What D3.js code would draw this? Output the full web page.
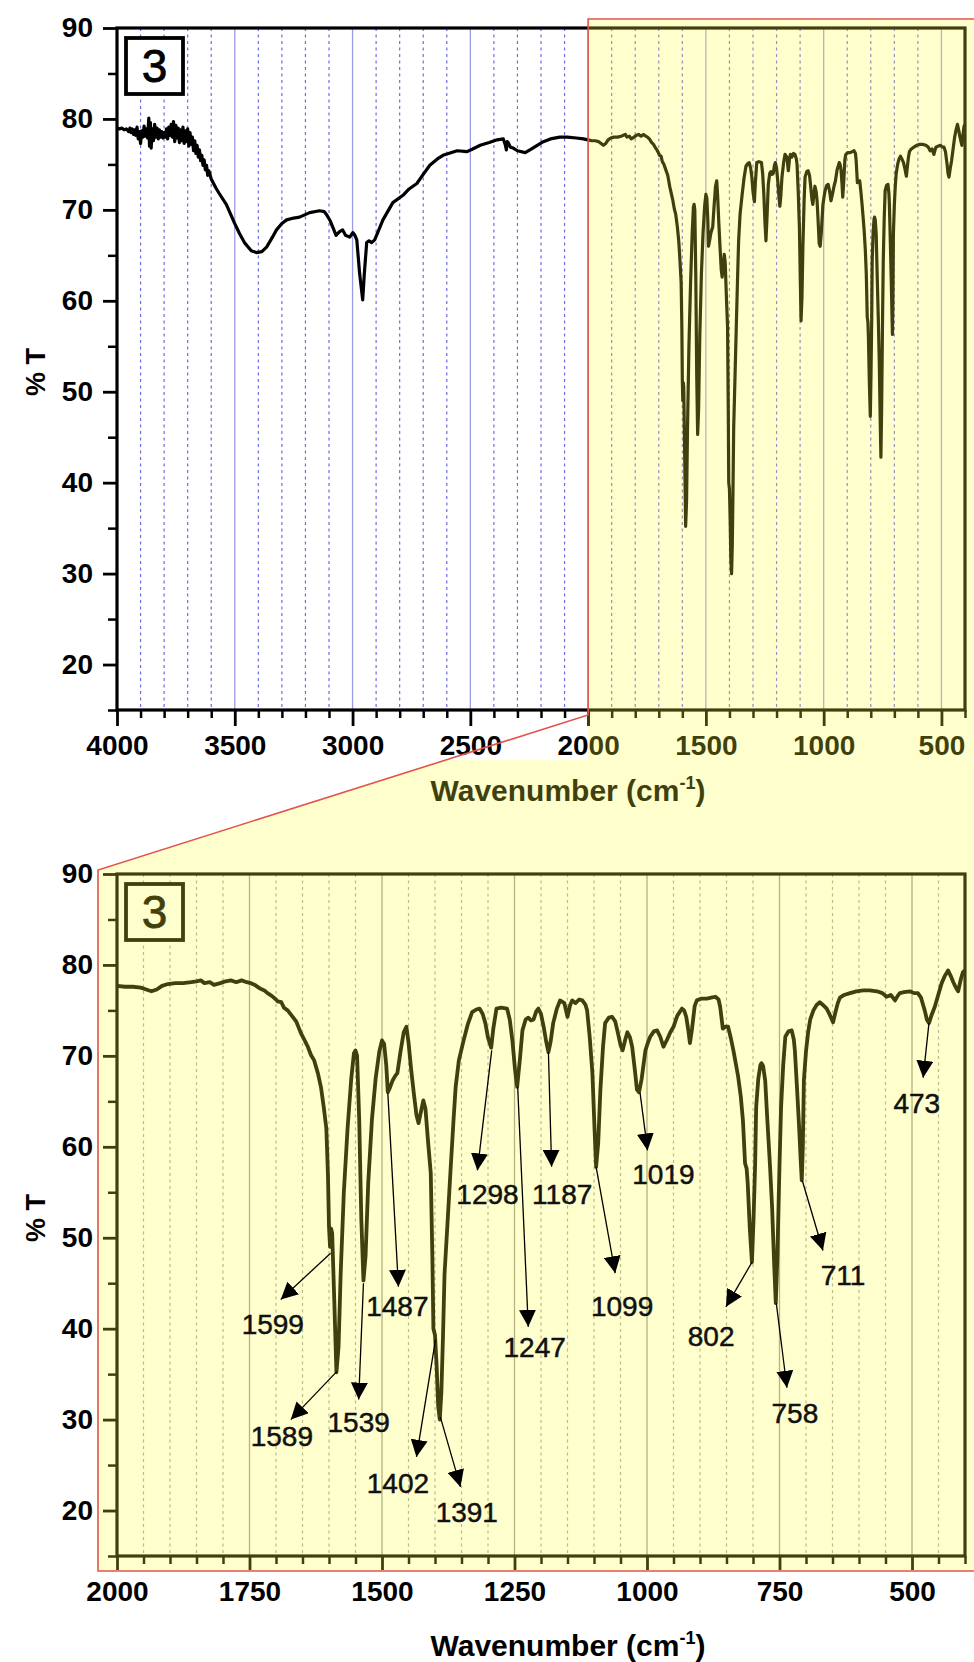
<!DOCTYPE html>
<html>
<head>
<meta charset="utf-8">
<script src="https://cdn.jsdelivr.net/npm/d3@7"></script>
<style>
  body { margin: 0; background: #fff; }
  svg { display: block; }
  text { font-family: "Liberation Sans", Arial, sans-serif; }
</style>
</head>
<body>
<div id="chart"></div>
<script>
// spectrum 4000 -> 2000 cm-1
const highSpectrum = [
  [4000,79.0],[3990,78.9],[3980,79.0],[3970,78.8],[3960,78.9],[3950,78.6],[3945,79.0],[3940,78.5],
  [3935,78.9],[3930,78.3],[3925,78.8],[3920,78.2],[3915,79.1],[3910,77.8],[3905,78.6],[3900,77.3],
  [3895,78.7],[3890,78.0],[3885,79.2],[3880,78.1],[3875,78.9],[3870,77.9],[3865,80.1],[3862,77.0],
  [3858,79.6],[3855,76.8],[3850,78.9],[3845,77.6],[3840,79.4],[3835,78.0],[3830,79.0],[3825,77.8],
  [3820,78.8],[3815,78.0],[3810,78.6],[3805,77.9],[3800,78.5],[3795,78.0],[3790,78.9],[3785,77.8],
  [3780,79.1],[3775,78.2],[3770,79.4],[3765,78.0],[3760,79.7],[3755,77.5],[3750,79.3],[3745,77.9],
  [3740,79.0],[3735,77.4],[3730,78.8],[3725,77.6],[3720,79.1],[3715,77.3],[3710,78.7],[3705,77.5],
  [3700,78.9],[3695,77.0],[3690,78.5],[3685,77.2],[3680,78.0],[3675,76.5],[3670,77.6],[3665,76.2],
  [3660,77.1],[3655,75.8],[3650,76.6],[3645,75.4],[3640,76.0],[3635,74.9],[3630,75.5],[3625,74.4],
  [3620,74.9],[3615,73.8],[3610,74.3],[3600,73.4],[3590,72.9],[3580,72.4],[3566,71.8],[3536,70.6],
  [3502,68.6],[3480,67.4],[3459,66.4],[3430,65.5],[3408,65.3],[3385,65.4],[3365,65.9],[3340,67.0],
  [3323,67.8],[3300,68.5],[3280,68.9],[3250,69.1],[3225,69.2],[3182,69.7],[3140,69.9],[3120,69.8],
  [3111,69.5],[3095,68.8],[3084,68.1],[3070,67.2],[3063,67.4],[3055,67.6],[3042,67.8],[3030,67.2],
  [3012,67.0],[2999,67.5],[2990,67.2],[2982,66.7],[2970,63.0],[2957,60.1],[2950,63.0],[2940,66.4],
  [2930,66.6],[2919,66.4],[2906,66.7],[2871,68.9],[2829,70.8],[2786,71.6],[2760,72.3],[2727,72.9],
  [2700,73.9],[2672,74.9],[2640,75.6],[2616,76.0],[2556,76.5],[2514,76.4],[2490,76.7],[2458,77.1],
  [2420,77.4],[2386,77.7],[2360,77.8],[2352,77.2],[2347,76.6],[2343,77.5],[2339,77.4],[2330,76.9],
  [2318,76.8],[2300,76.5],[2267,76.3],[2240,76.7],[2216,77.1],[2190,77.5],[2160,77.8],[2120,78.0],
  [2088,78.0],[2050,77.9],[2020,77.8]
];

const fingerprint = [
  [2000,77.7],[1985,77.6],[1970,77.6],[1955,77.5],[1945,77.3],[1935,77.1],[1925,77.3],[1915,77.7],
  [1904,77.9],[1890,78.0],[1875,78.0],[1860,78.1],[1850,78.2],[1842,78.3],[1835,78.0],[1825,78.1],
  [1817,77.8],[1805,78.0],[1795,78.2],[1785,78.3],[1775,78.1],[1765,78.3],[1755,78.1],[1748,78.0],
  [1740,77.8],[1730,77.4],[1722,77.2],[1716,76.9],[1708,76.6],[1700,76.2],[1697,76.0],[1690,75.9],
  [1685,75.3],[1678,75.0],[1670,74.4],[1662,73.8],[1653,72.5],[1645,71.6],[1640,71.0],[1634,70.1],
  [1628,69.5],[1621,68.1],[1615,66.5],[1610,64.4],[1605,62.0],[1602,57.0],[1600,51.2],[1598,49.0],
  [1596,51.0],[1594,50.5],[1590,43.0],[1586,35.2],[1582,38.0],[1578,46.0],[1572,55.0],[1565,62.0],
  [1558,67.5],[1553,70.3],[1550,70.6],[1547,70.0],[1543,63.0],[1539,52.0],[1535,45.3],[1531,48.0],
  [1526,56.0],[1519,63.0],[1512,67.5],[1505,70.5],[1500,71.7],[1496,71.3],[1492,69.0],[1489,66.0],
  [1485,66.5],[1480,67.3],[1475,67.8],[1471,68.1],[1465,70.5],[1459,72.6],[1454,73.2],[1450,71.5],
  [1445,68.5],[1440,65.9],[1435,63.5],[1431,62.6],[1426,64.0],[1422,65.1],[1418,64.2],[1413,60.5],
  [1408,57.1],[1405,48.0],[1403,40.0],[1400,39.3],[1397,36.0],[1394,31.5],[1391,30.0],[1388,33.0],
  [1385,39.0],[1382,46.0],[1376,52.0],[1371,57.1],[1365,63.0],[1361,66.6],[1355,69.5],[1346,71.7],
  [1338,73.5],[1330,74.8],[1322,75.1],[1316,75.2],[1310,74.6],[1305,73.6],[1300,72.0],[1294,70.9],
  [1290,73.0],[1284,75.2],[1275,75.3],[1264,75.2],[1259,74.0],[1254,71.7],[1249,68.5],[1245,66.6],
  [1240,69.5],[1235,72.8],[1229,74.0],[1224,74.2],[1219,73.9],[1214,74.0],[1209,74.9],[1205,75.2],
  [1200,74.6],[1195,73.2],[1190,71.5],[1186,70.4],[1182,71.5],[1177,73.6],[1170,75.2],[1164,76.1],
  [1156,75.8],[1150,74.3],[1145,75.6],[1141,76.1],[1135,75.8],[1128,76.2],[1122,76.1],[1116,75.6],
  [1113,75.0],[1108,72.0],[1103,68.1],[1099,62.0],[1096,57.8],[1092,60.5],[1088,66.2],[1083,71.0],
  [1079,73.6],[1072,74.2],[1066,74.3],[1060,73.8],[1056,72.8],[1050,71.2],[1046,70.6],[1041,71.8],
  [1037,72.6],[1032,72.0],[1028,71.0],[1023,68.5],[1019,66.3],[1015,66.0],[1010,67.5],[1003,70.6],
  [998,71.5],[994,72.1],[987,72.7],[981,72.8],[975,72.1],[969,71.0],[962,71.8],[956,72.6],
  [950,73.2],[943,74.4],[934,75.2],[930,75.0],[926,74.3],[922,72.8],[919,71.4],[915,73.0],
  [910,75.5],[906,76.1],[897,76.3],[887,76.3],[879,76.4],[871,76.5],[865,76.2],[862,75.4],
  [859,74.0],[857,73.0],[852,73.2],[847,73.2],[842,72.0],[837,70.6],[832,69.0],[828,67.7],
  [823,65.5],[819,62.9],[815,58.2],[812,57.6],[810,56.0],[806,51.0],[802,47.3],[799,52.0],
  [796,58.0],[794,64.4],[790,67.5],[786,69.0],[784,69.2],[781,68.9],[777,67.3],[773,63.0],
  [768,58.0],[764,53.4],[760,47.0],[757,42.8],[754,48.0],[750,58.0],[747,64.4],[743,69.0],
  [739,72.1],[733,72.7],[727,72.8],[723,71.8],[721,70.6],[717,66.5],[713,62.2],[710,58.5],
  [708,56.3],[706,60.0],[704,67.3],[700,70.5],[696,72.6],[692,74.0],[686,75.0],[680,75.6],
  [674,75.9],[668,75.6],[661,75.2],[655,74.5],[649,73.7],[644,74.9],[640,75.8],[636,76.4],
  [628,76.7],[617,76.9],[605,77.1],[592,77.2],[580,77.2],[566,77.1],[556,76.9],[548,76.5],
  [540,76.7],[532,76.1],[527,76.6],[523,76.9],[515,77.0],[504,77.1],[496,76.9],[489,76.9],
  [483,76.4],[476,75.0],[472,74.0],[468,73.6],[463,74.5],[457,75.4],[450,76.8],[444,78.0],
  [438,78.8],[432,79.4],[427,78.8],[422,78.1],[418,77.6],[413,77.1],[408,78.4],[404,79.2],
  [400,79.4]
];

const yTickValues = [20, 30, 40, 50, 60, 70, 80, 90];
const topXTickValues = [4000, 3500, 3000, 2500, 2000, 1500, 1000, 500];
const bottomXTickValues = [2000, 1750, 1500, 1250, 1000, 750, 500];

// peak annotations: [wavenumber, %T] of arrow tail, arrow head and label
const peakLabels = ["1599","1589","1539","1487","1402","1391","1298","1247","1187","1099","1019","802","758","711","473"];
const arrowFrom = [[1597,48.3],[1585,35.3],[1535,45.0],[1489,65.9],[1399,38.8],[1390,30.3],[1293,70.6],[1244,66.6],
                   [1186,70.4],[1096,57.8],[1013,65.9],[802,47.3],[756,42.8],[707,56.3],[468,73.6]];
const arrowTo   = [[1691,43.2],[1672,30.0],[1544,32.2],[1469,44.6],[1435,25.9],[1352,22.6],[1320,57.4],[1224,40.2],
                   [1180,57.8],[1060,46.1],[999,59.6],[851,42.4],[736,33.5],[668,48.6],[479,67.6]];
const labelAt   = [[1706,40.5],[1689,28.1],[1544,29.7],[1471,42.4],[1470,23.0],[1340,19.8],[1301,54.7],[1212,37.9],
                   [1160,54.7],[1047,42.4],[969,56.9],[879,39.1],[721,30.7],[630,45.9],[491,64.8]];

const W = 974, H = 1662;

const svg = d3.select("#chart")
    .append("svg")
    .attr("width", W)
    .attr("height", H);

svg.append("rect").attr("width", W).attr("height", H).attr("fill", "#fff");

// scales
const xTop = d3.scaleLinear().domain([4000, 400]).range([117, 965]);
const yTop = d3.scaleLinear().domain([15, 90]).range([710, 28]);
const xBot = d3.scaleLinear().domain([2000, 400]).range([117, 965]);
const yBot = d3.scaleLinear().domain([15, 90]).range([1556, 874]);

function drawPanel(g, o) {
    const x = o.x, y = o.y;
    const [x0, x1] = x.range();
    const [yb, yt] = y.range();
    const [d0, d1] = x.domain();

    // vertical grid
    const gridVals = d3.range(d0 - o.minorStep, d1, -o.minorStep);
    g.append("g")
        .selectAll("line")
        .data(gridVals)
        .join("line")
        .attr("x1", d => x(d)).attr("x2", d => x(d))
        .attr("y1", yt).attr("y2", yb)
        .attr("stroke", d => o.majorX.includes(d) ? o.gridSolid : o.gridDash)
        .attr("stroke-width", d => o.majorX.includes(d) ? 1.3 : 1.2)
        .attr("stroke-dasharray", d => o.majorX.includes(d) ? null : "3,3.5");

    // spectrum
    g.append("path")
        .datum(o.data)
        .attr("fill", "none")
        .attr("stroke", "#000")
        .attr("stroke-width", o.lineWidth)
        .attr("stroke-linejoin", "round")
        .attr("d", d3.line().x(d => x(d[0])).y(d => y(d[1])));

    // label box "3"
    g.append("rect")
        .attr("x", x0 + 9).attr("y", yt + 10)
        .attr("width", 57).attr("height", 56)
        .attr("fill", "#fff").attr("stroke", "#000").attr("stroke-width", 3.8);
    g.append("text")
        .attr("x", x0 + 37.5).attr("y", yt + 54)
        .attr("text-anchor", "middle")
        .attr("font-size", 46)
        .attr("stroke", "#000").attr("stroke-width", 0.8)
        .text("3");

    // x axis, major + minor ticks
    const minorX = d3.range(d0, d1 - 1, -o.minorStep).filter(v => !o.majorX.includes(v));
    g.append("g")
        .attr("transform", `translate(0,${yb})`)
        .call(d3.axisBottom(x).tickValues(minorX).tickSize(8).tickFormat(""))
        .call(a => a.select(".domain").remove())
        .call(a => a.selectAll("line").attr("stroke-width", 2.5));
    g.append("g")
        .attr("transform", `translate(0,${yb})`)
        .call(d3.axisBottom(x).tickValues(o.majorX).tickSize(o.majorLen).tickPadding(o.xPad).tickFormat(d3.format("d")))
        .call(a => a.select(".domain").remove())
        .call(a => a.selectAll("line").attr("stroke-width", 2.8))
        .selectAll("text")
            .attr("font-size", 28)
            .attr("font-weight", "bold")
            .attr("fill", "#000");

    // y axis, major + minor ticks
    const minorY = [15, 25, 35, 45, 55, 65, 75, 85];
    g.append("g")
        .attr("transform", `translate(${x0},0)`)
        .call(d3.axisLeft(y).tickValues(minorY).tickSize(9).tickFormat(""))
        .call(a => a.select(".domain").remove())
        .call(a => a.selectAll("line").attr("stroke-width", 2.5));
    g.append("g")
        .attr("transform", `translate(${x0},0)`)
        .call(d3.axisLeft(y).tickValues(yTickValues).tickSize(14).tickPadding(10).tickFormat(d3.format("d")))
        .call(a => a.select(".domain").remove())
        .call(a => a.selectAll("line").attr("stroke-width", 2.8))
        .selectAll("text")
            .attr("font-size", 28)
            .attr("font-weight", "bold")
            .attr("fill", "#000");

    // frame
    g.append("rect")
        .attr("x", x0).attr("y", yt)
        .attr("width", x1 - x0).attr("height", yb - yt)
        .attr("fill", "none").attr("stroke", "#000").attr("stroke-width", 3.2);

    // axis titles
    g.append("text")
        .attr("transform", `translate(36,${(yt + yb) / 2 + 3}) rotate(-90)`)
        .attr("text-anchor", "middle")
        .attr("dominant-baseline", "central")
        .attr("font-size", 27)
        .attr("font-weight", "bold")
        .text("% T");

    const xt = g.append("text")
        .attr("x", 568).attr("y", o.titleY)
        .attr("text-anchor", "middle")
        .attr("font-size", 30)
        .attr("font-weight", "bold");
    xt.append("tspan").text("Wavenumber (cm");
    xt.append("tspan").attr("dy", -12).attr("font-size", 18).text("-1");
    xt.append("tspan").attr("dy", 12).text(")");
}

drawPanel(svg.append("g"), {
    x: xTop, y: yTop,
    data: highSpectrum.concat(fingerprint),
    majorX: topXTickValues, minorStep: 100, majorLen: 16, xPad: 9,
    gridSolid: "#9c9ce6", gridDash: "#6c6ce6",
    lineWidth: 3.2, titleY: 801
});

drawPanel(svg.append("g"), {
    x: xBot, y: yBot,
    data: fingerprint,
    majorX: bottomXTickValues, minorStep: 50, majorLen: 14, xPad: 11,
    gridSolid: "#9a9a9a", gridDash: "#a4a4a4",
    lineWidth: 3.8, titleY: 1656
});

// yellow zoom highlight, laid over both panels
const zoomLeftTop = xTop(2000), zoomTopY = 19, zoomBotY = 715, redBottom = 1571, redLeft = 98;
svg.append("polygon")
    .attr("points", [
        [zoomLeftTop, zoomTopY], [W, zoomTopY], [W, redBottom], [redLeft, redBottom],
        [redLeft, 870], [444, 760], [zoomLeftTop, 760]
    ].join(" "))
    .attr("fill", "rgb(255,255,60)")
    .attr("fill-opacity", 0.25);

svg.append("path")
    .attr("d", `M${W},${zoomTopY}H${zoomLeftTop}V${zoomBotY}L${redLeft},870V${redBottom}H${W}`)
    .attr("fill", "none")
    .attr("stroke", "#e2554c")
    .attr("stroke-width", 1.6);

// peak arrows
svg.append("defs").append("marker")
    .attr("id", "head")
    .attr("viewBox", "0 0 16 16")
    .attr("refX", 16).attr("refY", 8)
    .attr("markerWidth", 17).attr("markerHeight", 17)
    .attr("markerUnits", "userSpaceOnUse")
    .attr("orient", "auto")
    .append("path")
    .attr("d", "M0,0L16,8L0,16Z")
    .attr("fill", "#000");

const ann = svg.append("g");
ann.selectAll("line")
    .data(peakLabels)
    .join("line")
    .attr("x1", (d, i) => xBot(arrowFrom[i][0]))
    .attr("y1", (d, i) => yBot(arrowFrom[i][1]))
    .attr("x2", (d, i) => xBot(arrowTo[i][0]))
    .attr("y2", (d, i) => yBot(arrowTo[i][1]))
    .attr("stroke", "#000")
    .attr("stroke-width", 1.3)
    .attr("marker-end", "url(#head)");

ann.selectAll("text")
    .data(peakLabels)
    .join("text")
    .attr("x", (d, i) => xBot(labelAt[i][0]))
    .attr("y", (d, i) => yBot(labelAt[i][1]))
    .attr("text-anchor", "middle")
    .attr("dominant-baseline", "central")
    .attr("font-size", 28)
    .attr("fill", "#111")
    .attr("stroke", "#111")
    .attr("stroke-width", 0.5)
    .text(d => d);
</script>
</body>
</html>
